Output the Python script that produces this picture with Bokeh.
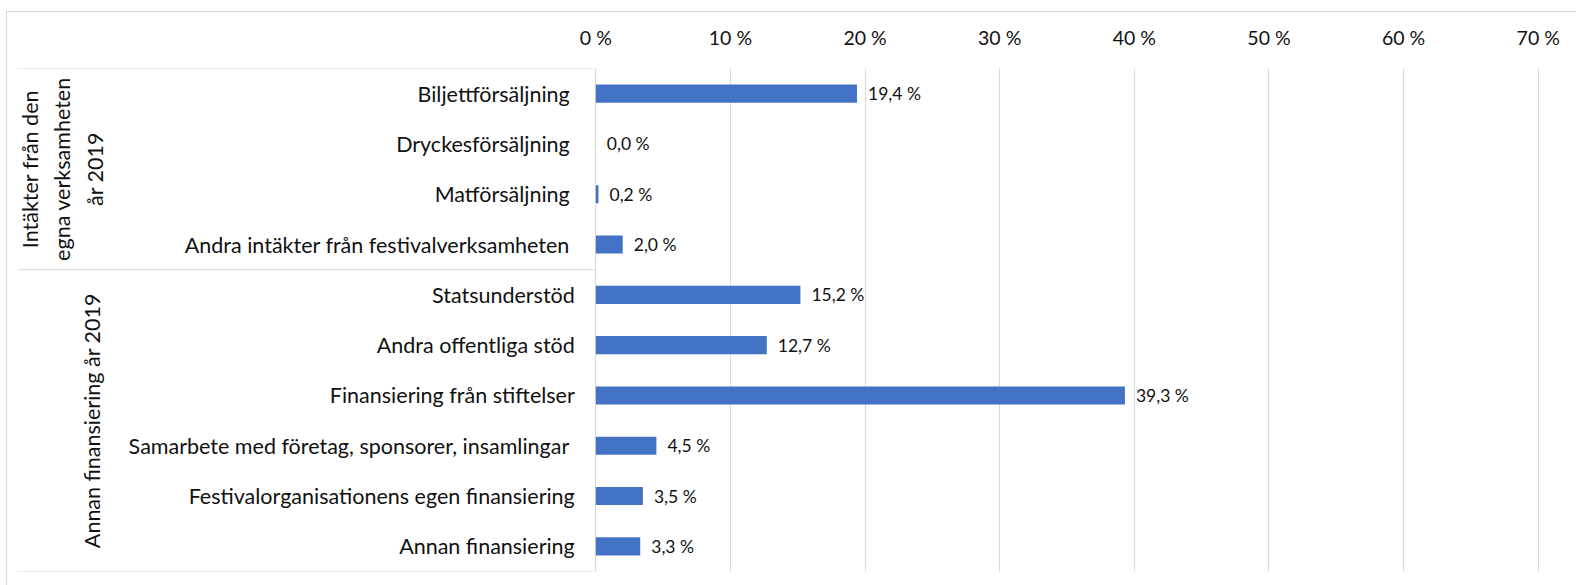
import math
from bokeh.plotting import figure
from bokeh.models import Range1d, FactorRange, FixedTicker, LinearAxis, ColumnDataSource
from bokeh.core.properties import value
from bokeh.embed import file_html
from bokeh.resources import INLINE

# ---------------- data ----------------
group1_name = "Intäkter från den\negna verksamheten\når 2019"
group2_name = "Annan finansiering år 2019"
group1_cats = ["Biljettförsäljning", "Dryckesförsäljning", "Matförsäljning",
               "Andra intäkter från festivalverksamheten"]
group1_vals = [19.4, 0.0, 0.2, 2.0]
group2_cats = ["Statsunderstöd", "Andra offentliga stöd", "Finansiering från stiftelser",
               "Samarbete med företag, sponsorer, insamlingar ",
               "Festivalorganisationens egen finansiering", "Annan finansiering"]
group2_vals = [15.2, 12.7, 39.3, 4.5, 3.5, 3.3]
tick_values = [0, 10, 20, 30, 40, 50, 60, 70]
tick_labels = ["0 %", "10 %", "20 %", "30 %", "40 %", "50 %", "60 %", "70 %"]

# ---------------- layout ----------------
W, H = 1576, 585
TOP, BOTTOM = 68, 14
ZERO_PX = 595.3            # pixel of 0 % inside the frame
PX_PER_PCT = 13.463
x_start = -ZERO_PX / PX_PER_PCT
x_end = x_start + W / PX_PER_PCT

FONT_NAME = "Lato"
FONT = value(FONT_NAME)
TXT = "#111111"
GRID = "#D9D9D9"
BAR = "#4472C4"

cats = group1_cats + group2_cats
vals = group1_vals + group2_vals
labels = [f"{v:.1f} %".replace(".", ",") for v in vals]

p = figure(width=W, height=H, output_backend="svg", toolbar_location=None,
           x_range=Range1d(x_start, x_end), y_range=FactorRange(*cats[::-1]),
           x_axis_location=None, y_axis_location=None,
           min_border_left=0, min_border_right=0, min_border_top=TOP, min_border_bottom=BOTTOM)
p.outline_line_color = None
p.border_fill_color = None
p.background_fill_color = None
p.styles = {
    "background": (f"linear-gradient({GRID},{GRID}) 6px 11px / 100% 1px no-repeat, "
                   f"linear-gradient({GRID},{GRID}) 6px 11px / 1px 100% no-repeat")
}

ticker = FixedTicker(ticks=tick_values)
ax = LinearAxis(ticker=ticker)
ax.major_label_overrides = {t: l for t, l in zip(tick_values, tick_labels)}
ax.axis_line_color = None
ax.major_tick_line_color = None
ax.minor_tick_line_color = None
ax.major_label_standoff = 14
ax.major_label_text_font = FONT_NAME
ax.major_label_text_font_size = "19.5px"
ax.major_label_text_color = TXT
p.add_layout(ax, "above")

p.xgrid.ticker = ticker
p.xgrid.grid_line_color = GRID
p.ygrid.grid_line_color = None

# box lines of the category area
sep_y = [len(cats), len(group2_cats), 0]
left_line = x_start + 17 / PX_PER_PCT
p.segment(x0=[left_line] * 3, x1=[0] * 3, y0=sep_y, y1=sep_y, line_color=GRID, line_width=1)

src = ColumnDataSource(dict(cat=cats, val=vals, lab=labels))
p.hbar(y="cat", left=0, right="val", height=0.36, source=src, fill_color=BAR, line_color=None)
p.text(x="val", y="cat", text="lab", source=src, x_offset=11, text_align="left",
       text_baseline="middle", text_font=FONT, text_font_size="17.5px", text_color=TXT)

n1 = len(group1_cats)
p.text(x=[0] * n1, y=group1_cats, text=group1_cats, x_offset=-26, text_align="right",
       text_baseline="middle", text_font=FONT, text_font_size="21.5px", text_color=TXT)
n2 = len(group2_cats)
p.text(x=[0] * n2, y=group2_cats, text=group2_cats, x_offset=-21, text_align="right",
       text_baseline="middle", text_font=FONT, text_font_size="21.5px", text_color=TXT)

# group labels (rotated)
p.text(x=[0], y=[len(group2_cats) + n1 / 2], text=[group1_name], x_offset=62 - ZERO_PX,
       angle=math.pi / 2, text_align="center", text_baseline="middle", text_line_height=1.25,
       text_font=FONT, text_font_size="21.5px", text_color=TXT)
p.text(x=[0], y=[n2 / 2], text=[group2_name], x_offset=92 - ZERO_PX,
       angle=math.pi / 2, text_align="center", text_baseline="middle",
       text_font=FONT, text_font_size="21.5px", text_color=TXT)

open("out.html", "w").write(file_html(p, INLINE))
